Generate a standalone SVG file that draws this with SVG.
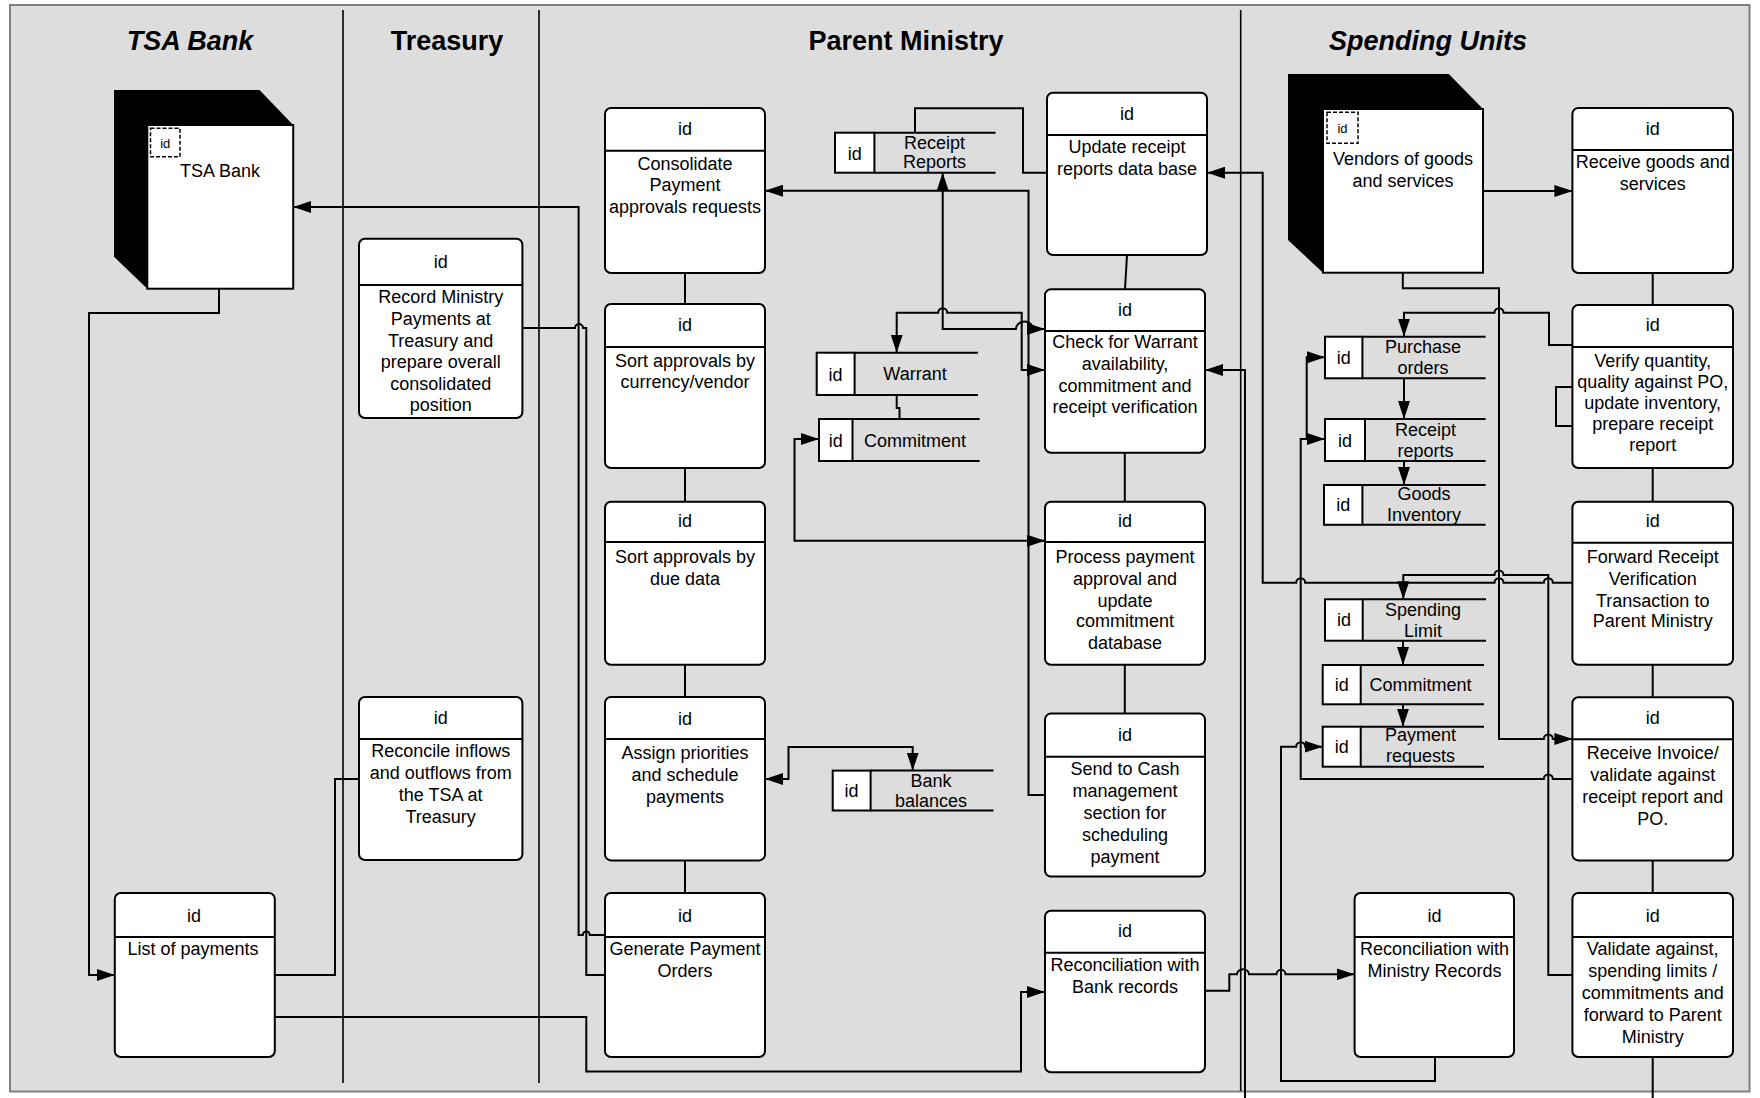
<svg xmlns="http://www.w3.org/2000/svg" width="1760" height="1098" viewBox="0 0 1760 1098">
  <defs>
    <marker id="ah" viewBox="0 0 18 12" refX="18" refY="6" markerWidth="18" markerHeight="12" markerUnits="userSpaceOnUse" orient="auto-start-reverse">
      <path d="M0,0 L18,6 L0,12 Z" fill="#000"/>
    </marker>
    <style>
      text { font-family: "Liberation Sans", Arial, sans-serif; fill: #000; }
      .lane { font-size: 27px; font-weight: bold; text-anchor: middle; }
      .it { font-style: italic; }
      .t { font-size: 18px; text-anchor: middle; }
      .sm { font-size: 13px; text-anchor: middle; }
      .box { fill: #fff; stroke: #000; stroke-width: 2; }
      .ln { fill: none; stroke: #000; stroke-width: 2; }
      .div { fill: none; stroke: #000; stroke-width: 1.6; }
      .dash { fill: none; stroke: #000; stroke-width: 1.5; stroke-dasharray: 4 2; }
      .arr { marker-end: url(#ah); }
      .arr2 { marker-start: url(#ah); marker-end: url(#ah); }
    </style>
  </defs>

  <!-- background and swimlanes -->
  <rect x="10" y="5" width="1739.5" height="1086.5" fill="#dddddd" stroke="#808080" stroke-width="2"/>
  <g id="lanes">
    <line class="div" x1="343" y1="10" x2="343" y2="1083"/>
    <line class="div" x1="539" y1="10" x2="539" y2="1083"/>
    <line class="div" x1="1240.7" y1="10" x2="1240.7" y2="1091"/>
    <text class="lane it" x="190" y="50">TSA Bank</text>
    <text class="lane" x="447" y="50">Treasury</text>
    <text class="lane" x="906" y="50">Parent Ministry</text>
    <text class="lane it" x="1428" y="50">Spending Units</text>
  </g>

  <!-- connectors -->
  <g id="connectors">
    <path class="ln arr" d="M219,289 V313 H89 V975 H114.8"/>
    <path class="ln arr" d="M605,935 H589.8 A3.5,3.5 0 0 0 582.8,935 H578.6 V207 H293.2"/>
    <path class="ln" d="M522.4,328 H575 A4,4 0 0 1 583,328 H586.3 V975 H605"/>
    <path class="ln" d="M274.8,975 H335 V779 H359"/>
    <path class="ln arr" d="M274.8,1017 H586.3 V1071.5 H1021 V992 H1045"/>
    <path class="ln" d="M915,132.7 V108.3 H1023 V172.7 H1047"/>
    <path class="ln arr" d="M1045,795 H1028.5 V190.7 H765"/>
    <path class="ln arr2" d="M942.7,172.7 V329 H1016 A8,7 0 0 1 1033,329 H1045"/>
    <path class="ln arr2" d="M896.7,352.7 V312.7 H938.2 A4.5,4.5 0 0 1 947.2,312.7 H1021.7 V370 H1045"/>
    <path class="ln" d="M896.7,395 V408 H899.5 V419"/>
    <path class="ln arr2" d="M819,439 H794.5 V540.7 H1045"/>
    <path class="ln arr2" d="M912.7,770.6 V747 H788.5 V779 H765"/>
    <path class="ln" d="M1127,255 L1125,289.3"/>
    <path class="ln" d="M685,273 V304 M685,468 V501.7 M685,664.5 V697 M685,860.4 V893"/>
    <path class="ln" d="M1124.8,452.7 V501.7 M1124.8,664.5 V713.6"/>
    <path class="ln arr" d="M1205,990.7 H1229.3 V974.3 H1237 A6,5 0 0 1 1249,974.3 H1276.5 A4.5,4.5 0 0 1 1285.5,974.3 H1354.6"/>
    <path class="ln arr" d="M1245,1098 V370 H1205"/>
    <path class="ln arr" d="M1572.4,582.7 H1552.8 A4.5,4.5 0 0 0 1543.8,582.7 H1503.5 A4.5,4.5 0 0 0 1494.5,582.7 H1305.2 A4.5,4.5 0 0 0 1296.2,582.7 H1262.7 V172.7 H1207"/>
    <path class="ln arr" d="M1483,191 H1572.4"/>
    <path class="ln" d="M1652.7,273 V305 M1652.7,468 V501.7 M1652.7,664.5 V697.2 M1652.7,860.4 V893 M1652.7,1057 V1098"/>
    <path class="ln" d="M1572.4,387 H1556 V426 H1572.4"/>
    <path class="ln arr" d="M1402.8,272.7 V288.3 H1499 V739 H1543.8 A4.5,4.5 0 0 1 1552.8,739 H1572.4"/>
    <path class="ln arr" d="M1572.4,345 H1549 V312.7 H1503.5 A4.5,4.5 0 0 0 1494.5,312.7 H1404 V336.7"/>
    <path class="ln arr" d="M1404,378.3 V419"/>
    <path class="ln arr" d="M1404,461 V485"/>
    <path class="ln arr" d="M1403,640.6 V665"/>
    <path class="ln arr" d="M1403,704.3 V726.7"/>
    <path class="ln arr" d="M1572.4,975 H1548.3 V575 H1503.5 A4.5,4.5 0 0 0 1494.5,575 H1403.3 V599.3"/>
    <path class="ln arr" d="M1572.4,779 H1552.8 A4.5,4.5 0 0 0 1543.8,779 H1300.7 V439 H1325"/>
    <path class="ln arr" d="M1306.7,439 V357.3 H1325"/>
    <path class="ln arr" d="M1435,1057 V1081 H1281 V746.7 H1296.2 A4.5,4.5 0 0 1 1305.2,746.7 H1322.7"/>
  </g>

  <!-- external entities -->
  <g id="tsa-bank">
    <path d="M114,90 H259.5 L293.2,125 V288.7 H147.3 L114,256.7 Z" fill="#000"/>
    <rect class="box" x="147.3" y="125" width="145.9" height="163.7"/>
    <rect class="dash" x="150.5" y="128.3" width="29.5" height="28.5"/>
    <text class="sm" x="165.2" y="147.5">id</text>
    <text class="t" x="220" y="177">TSA Bank</text>
  </g>
  <g id="vendors">
    <path d="M1288,74 H1448.8 L1483,109 V272.7 H1323 L1288,240 Z" fill="#000"/>
    <rect class="box" x="1323" y="109" width="160" height="163.7"/>
    <rect class="dash" x="1327" y="112.3" width="31" height="31"/>
    <text class="sm" x="1342.5" y="132.5">id</text>
    <text class="t" x="1403" y="165">Vendors of goods</text>
    <text class="t" x="1403" y="187">and services</text>
  </g>

  <!-- processes -->
  <g id="record-ministry">
    <rect class="box" x="359" y="238.7" width="163.4" height="179.3" rx="6"/>
    <line class="ln" x1="359" y1="285" x2="522.4" y2="285"/>
    <text class="t" x="440.7" y="267.5">id</text>
    <text class="t" x="440.7" y="303">Record Ministry</text>
    <text class="t" x="440.7" y="325">Payments at</text>
    <text class="t" x="440.7" y="347">Treasury and</text>
    <text class="t" x="440.7" y="368">prepare overall</text>
    <text class="t" x="440.7" y="390">consolidated</text>
    <text class="t" x="440.7" y="411">position</text>
  </g>
  <g id="reconcile-inflows">
    <rect class="box" x="359" y="697" width="163.4" height="163" rx="6"/>
    <line class="ln" x1="359" y1="739" x2="522.4" y2="739"/>
    <text class="t" x="440.7" y="724">id</text>
    <text class="t" x="440.7" y="757">Reconcile inflows</text>
    <text class="t" x="440.7" y="779">and outflows from</text>
    <text class="t" x="440.7" y="801">the TSA at</text>
    <text class="t" x="440.7" y="823">Treasury</text>
  </g>
  <g id="list-of-payments">
    <rect class="box" x="114.8" y="893" width="160" height="164" rx="6"/>
    <line class="ln" x1="114.8" y1="937" x2="274.8" y2="937"/>
    <text class="t" x="194" y="921.5">id</text>
    <text class="t" x="193" y="955">List of payments</text>
  </g>
  <g id="consolidate">
    <rect class="box" x="605" y="108" width="160" height="165" rx="6"/>
    <line class="ln" x1="605" y1="150.7" x2="765" y2="150.7"/>
    <text class="t" x="685" y="135">id</text>
    <text class="t" x="685" y="169.5">Consolidate</text>
    <text class="t" x="685" y="191">Payment</text>
    <text class="t" x="685" y="212.5">approvals requests</text>
  </g>
  <g id="sort-currency">
    <rect class="box" x="605" y="304" width="160" height="164" rx="6"/>
    <line class="ln" x1="605" y1="347" x2="765" y2="347"/>
    <text class="t" x="685" y="331">id</text>
    <text class="t" x="685" y="367">Sort approvals by</text>
    <text class="t" x="685" y="388">currency/vendor</text>
  </g>
  <g id="sort-due">
    <rect class="box" x="605" y="501.7" width="160" height="163" rx="6"/>
    <line class="ln" x1="605" y1="542" x2="765" y2="542"/>
    <text class="t" x="685" y="527">id</text>
    <text class="t" x="685" y="562.5">Sort approvals by</text>
    <text class="t" x="685" y="584.5">due data</text>
  </g>
  <g id="assign-priorities">
    <rect class="box" x="605" y="697" width="160" height="163.4" rx="6"/>
    <line class="ln" x1="605" y1="739" x2="765" y2="739"/>
    <text class="t" x="685" y="724.5">id</text>
    <text class="t" x="685" y="759">Assign priorities</text>
    <text class="t" x="685" y="781">and schedule</text>
    <text class="t" x="685" y="803">payments</text>
  </g>
  <g id="generate-orders">
    <rect class="box" x="605" y="893" width="160" height="164" rx="6"/>
    <line class="ln" x1="605" y1="937" x2="765" y2="937"/>
    <text class="t" x="685" y="921.5">id</text>
    <text class="t" x="685" y="955">Generate Payment</text>
    <text class="t" x="685" y="977">Orders</text>
  </g>
  <g id="update-receipt">
    <rect class="box" x="1047" y="92.7" width="160" height="162.3" rx="6"/>
    <line class="ln" x1="1047" y1="135" x2="1207" y2="135"/>
    <text class="t" x="1127" y="119.5">id</text>
    <text class="t" x="1127" y="153">Update receipt</text>
    <text class="t" x="1127" y="174.5">reports data base</text>
  </g>
  <g id="check-warrant">
    <rect class="box" x="1045" y="289.3" width="160" height="163.4" rx="6"/>
    <line class="ln" x1="1045" y1="331" x2="1205" y2="331"/>
    <text class="t" x="1125" y="315.5">id</text>
    <text class="t" x="1125" y="348">Check for Warrant</text>
    <text class="t" x="1125" y="370">availability,</text>
    <text class="t" x="1125" y="392">commitment and</text>
    <text class="t" x="1125" y="413">receipt verification</text>
  </g>
  <g id="process-payment">
    <rect class="box" x="1045" y="501.7" width="160" height="163" rx="6"/>
    <line class="ln" x1="1045" y1="542" x2="1205" y2="542"/>
    <text class="t" x="1125" y="527">id</text>
    <text class="t" x="1125" y="562.5">Process payment</text>
    <text class="t" x="1125" y="584.5">approval and</text>
    <text class="t" x="1125" y="606.5">update</text>
    <text class="t" x="1125" y="627">commitment</text>
    <text class="t" x="1125" y="648.5">database</text>
  </g>
  <g id="send-cash">
    <rect class="box" x="1045" y="713.6" width="160" height="163" rx="6"/>
    <line class="ln" x1="1045" y1="756.8" x2="1205" y2="756.8"/>
    <text class="t" x="1125" y="741">id</text>
    <text class="t" x="1125" y="774.5">Send to Cash</text>
    <text class="t" x="1125" y="796.5">management</text>
    <text class="t" x="1125" y="818.5">section for</text>
    <text class="t" x="1125" y="840.5">scheduling</text>
    <text class="t" x="1125" y="862.5">payment</text>
  </g>
  <g id="reconcile-bank">
    <rect class="box" x="1045" y="910.8" width="160" height="161.5" rx="6"/>
    <line class="ln" x1="1045" y1="952.8" x2="1205" y2="952.8"/>
    <text class="t" x="1125" y="937">id</text>
    <text class="t" x="1125" y="971">Reconciliation with</text>
    <text class="t" x="1125" y="992.5">Bank records</text>
  </g>
  <g id="receive-goods">
    <rect class="box" x="1572.4" y="108" width="160.6" height="165" rx="6"/>
    <line class="ln" x1="1572.4" y1="150" x2="1733" y2="150"/>
    <text class="t" x="1652.7" y="135">id</text>
    <text class="t" x="1652.7" y="168">Receive goods and</text>
    <text class="t" x="1652.7" y="190">services</text>
  </g>
  <g id="verify-quantity">
    <rect class="box" x="1572.4" y="305" width="160.6" height="163" rx="6"/>
    <line class="ln" x1="1572.4" y1="347" x2="1733" y2="347"/>
    <text class="t" x="1652.7" y="331">id</text>
    <text class="t" x="1652.7" y="367">Verify quantity,</text>
    <text class="t" x="1652.7" y="387.5">quality against PO,</text>
    <text class="t" x="1652.7" y="408.5">update inventory,</text>
    <text class="t" x="1652.7" y="430">prepare receipt</text>
    <text class="t" x="1652.7" y="451">report</text>
  </g>
  <g id="forward-receipt">
    <rect class="box" x="1572.4" y="501.7" width="160.6" height="163" rx="6"/>
    <line class="ln" x1="1572.4" y1="542.8" x2="1733" y2="542.8"/>
    <text class="t" x="1652.7" y="527">id</text>
    <text class="t" x="1652.7" y="562.5">Forward Receipt</text>
    <text class="t" x="1652.7" y="584.8">Verification</text>
    <text class="t" x="1652.7" y="606.6">Transaction to</text>
    <text class="t" x="1652.7" y="627">Parent Ministry</text>
  </g>
  <g id="receive-invoice">
    <rect class="box" x="1572.4" y="697.2" width="160.6" height="163.2" rx="6"/>
    <line class="ln" x1="1572.4" y1="739.2" x2="1733" y2="739.2"/>
    <text class="t" x="1652.7" y="724">id</text>
    <text class="t" x="1652.7" y="759">Receive Invoice/</text>
    <text class="t" x="1652.7" y="781">validate against</text>
    <text class="t" x="1652.7" y="803">receipt report and</text>
    <text class="t" x="1652.7" y="825">PO.</text>
  </g>
  <g id="validate-limits">
    <rect class="box" x="1572.4" y="893" width="160.6" height="164" rx="6"/>
    <line class="ln" x1="1572.4" y1="937" x2="1733" y2="937"/>
    <text class="t" x="1652.7" y="921.5">id</text>
    <text class="t" x="1652.7" y="955">Validate against,</text>
    <text class="t" x="1652.7" y="977">spending limits /</text>
    <text class="t" x="1652.7" y="999">commitments and</text>
    <text class="t" x="1652.7" y="1021">forward to Parent</text>
    <text class="t" x="1652.7" y="1043">Ministry</text>
  </g>
  <g id="reconcile-ministry">
    <rect class="box" x="1354.6" y="893" width="159.4" height="164" rx="6"/>
    <line class="ln" x1="1354.6" y1="937" x2="1514" y2="937"/>
    <text class="t" x="1434.5" y="921.5">id</text>
    <text class="t" x="1434.5" y="955">Reconciliation with</text>
    <text class="t" x="1434.5" y="977">Ministry Records</text>
  </g>

  <!-- data stores -->
  <g id="store-receipt-reports">
    <rect class="box" x="835" y="132.7" width="39.4" height="40"/>
    <path class="ln" d="M874.4,132.7 H995.6 M874.4,172.7 H995.6"/>
    <text class="t" x="854.7" y="159.5">id</text>
    <text class="t" x="934.6" y="148.5">Receipt</text>
    <text class="t" x="934.6" y="168">Reports</text>
  </g>
  <g id="store-warrant">
    <rect class="box" x="816.7" y="352.7" width="37.9" height="42.3"/>
    <path class="ln" d="M854.6,352.7 H978 M854.6,395 H978"/>
    <text class="t" x="835.6" y="380.5">id</text>
    <text class="t" x="915" y="380">Warrant</text>
  </g>
  <g id="store-commitment-pm">
    <rect class="box" x="819" y="419" width="33.5" height="42"/>
    <path class="ln" d="M852.5,419 H979.6 M852.5,461 H979.6"/>
    <text class="t" x="835.7" y="446.5">id</text>
    <text class="t" x="915" y="446.5">Commitment</text>
  </g>
  <g id="store-bank-balances">
    <rect class="box" x="832.7" y="770.6" width="37.9" height="39.9"/>
    <path class="ln" d="M870.6,770.6 H993.5 M870.6,810.5 H993.5"/>
    <text class="t" x="851.6" y="797">id</text>
    <text class="t" x="931" y="787">Bank</text>
    <text class="t" x="931" y="807">balances</text>
  </g>
  <g id="store-purchase-orders">
    <rect class="box" x="1325" y="336.7" width="37.4" height="41.6"/>
    <path class="ln" d="M1362.4,336.7 H1485.6 M1362.4,378.3 H1485.6"/>
    <text class="t" x="1343.7" y="363.5">id</text>
    <text class="t" x="1423" y="353">Purchase</text>
    <text class="t" x="1423" y="374">orders</text>
  </g>
  <g id="store-receipt-reports-su">
    <rect class="box" x="1325" y="419" width="40" height="42"/>
    <path class="ln" d="M1365,419 H1485.6 M1365,461 H1485.6"/>
    <text class="t" x="1345" y="446.5">id</text>
    <text class="t" x="1425.6" y="435.5">Receipt</text>
    <text class="t" x="1425.6" y="457">reports</text>
  </g>
  <g id="store-goods-inventory">
    <rect class="box" x="1324" y="485" width="38.4" height="39.8"/>
    <path class="ln" d="M1362.4,485 H1485.6 M1362.4,524.8 H1485.6"/>
    <text class="t" x="1343.2" y="511">id</text>
    <text class="t" x="1424" y="500">Goods</text>
    <text class="t" x="1424" y="520.6">Inventory</text>
  </g>
  <g id="store-spending-limit">
    <rect class="box" x="1325" y="599.3" width="37.7" height="41.4"/>
    <path class="ln" d="M1362.7,599.3 H1486 M1362.7,640.7 H1486"/>
    <text class="t" x="1344" y="626">id</text>
    <text class="t" x="1423" y="615.5">Spending</text>
    <text class="t" x="1423" y="637">Limit</text>
  </g>
  <g id="store-commitment-su">
    <rect class="box" x="1322.7" y="665" width="38" height="39.3"/>
    <path class="ln" d="M1360.7,665 H1484 M1360.7,704.3 H1484"/>
    <text class="t" x="1341.7" y="691">id</text>
    <text class="t" x="1420.6" y="691">Commitment</text>
  </g>
  <g id="store-payment-requests">
    <rect class="box" x="1322.7" y="726.7" width="38" height="40"/>
    <path class="ln" d="M1360.7,726.7 H1484 M1360.7,766.7 H1484"/>
    <text class="t" x="1341.7" y="752.5">id</text>
    <text class="t" x="1420.6" y="741">Payment</text>
    <text class="t" x="1420.6" y="762">requests</text>
  </g>
</svg>
